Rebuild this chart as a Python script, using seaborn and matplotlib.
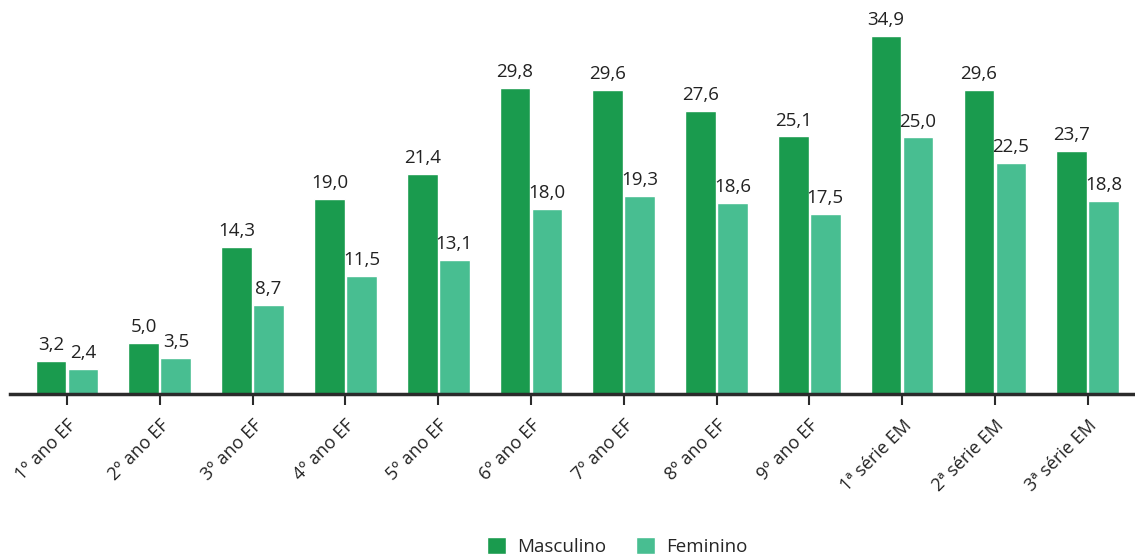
import matplotlib

matplotlib.use("Agg")
import matplotlib.pyplot as plt
import pandas as pd
import seaborn as sns

categories = ["1º ano EF", "2º ano EF", "3º ano EF", "4º ano EF", "5º ano EF",
              "6º ano EF", "7º ano EF", "8º ano EF", "9º ano EF",
              "1ª série EM", "2ª série EM", "3ª série EM"]
masculino = [3.2, 5.0, 14.3, 19.0, 21.4, 29.8, 29.6, 27.6, 25.1, 34.9, 29.6, 23.7]
feminino = [2.4, 3.5, 8.7, 11.5, 13.1, 18.0, 19.3, 18.6, 17.5, 25.0, 22.5, 18.8]

df = pd.DataFrame({
    "serie": categories * 2,
    "valor": masculino + feminino,
    "sexo": ["Masculino"] * len(categories) + ["Feminino"] * len(categories),
})

sns.set_theme(style="white")
plt.rcParams["font.family"] = ["Open Sans", "DejaVu Sans"]

fig = plt.figure(figsize=(11.35, 5.56), dpi=100)
ax = fig.add_axes([10 / 1135, 1 - 394 / 556, 1 - 10 / 1135, 394 / 556])

palette = {"Masculino": "#1a9b4e", "Feminino": "#48be91"}
sns.barplot(data=df, x="serie", y="valor", hue="sexo", palette=palette,
            width=0.69, gap=0.04, saturation=1, ax=ax)

for cont in ax.containers:
    labels = [f"{v:.1f}".replace(".", ",") for v in cont.datavalues]
    ax.bar_label(cont, labels=labels, padding=5, fontsize=13.5, color="#222222")

ax.set_xlim(-0.615, 11.51)
ax.set_ylim(0, 38.4)
ax.set_xlabel("")
ax.set_ylabel("")
ax.set_yticks([])
for side in ["top", "left", "right"]:
    ax.spines[side].set_visible(False)
ax.spines["bottom"].set_color("#2b2b2b")
ax.spines["bottom"].set_linewidth(2.5)
ax.tick_params(axis="x", bottom=True, length=8, width=1.5, color="#2b2b2b",
               pad=8, labelsize=13, labelcolor="#222222")
plt.setp(ax.get_xticklabels(), rotation=45, ha="right", rotation_mode="anchor")

ax.legend(loc="center", bbox_to_anchor=(0.54, -0.387), ncol=2,
          frameon=False, fontsize=13.5, handlelength=1.0, handleheight=1.0,
          columnspacing=1.6, handletextpad=0.6)

fig.savefig("out.png", dpi=100)
